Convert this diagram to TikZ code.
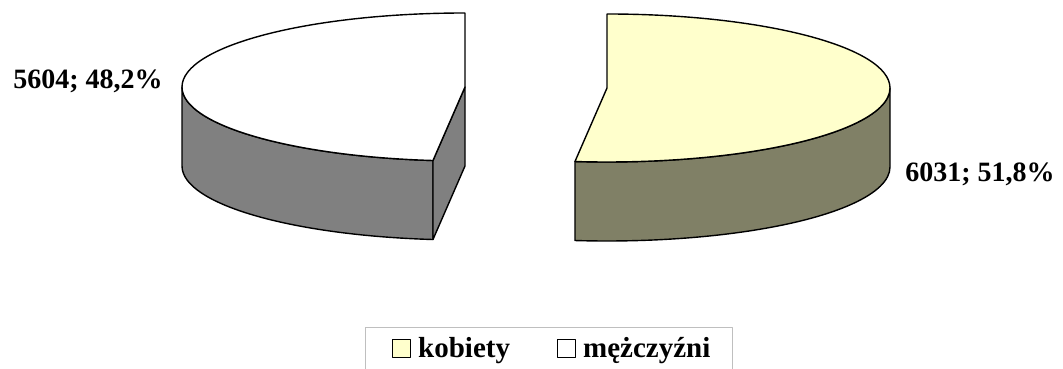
\documentclass[tikz,border=0pt]{standalone}
\usepackage{fontspec}
\setmainfont{Liberation Serif}
\usetikzlibrary{positioning}
\definecolor{jasny}{RGB}{255,255,204}
\definecolor{oliwka}{RGB}{128,128,102}
\definecolor{szary}{RGB}{128,128,128}
\def\rx{283}
\def\ry{74}

\begin{document}
\begin{tikzpicture}[x=1pt,y=1pt,line join=round,
  top/.style={fill=#1,draw=black,line width=1.4pt},
  side/.style={fill=#1,draw=black,line width=1.4pt},
  value/.style={font=\fontsize{28}{30}\selectfont\bfseries,inner sep=0pt},
  legend/.style={font=\fontsize{29}{31}\selectfont\bfseries,inner sep=0pt},
  box/.style={draw=black,line width=0.8pt,minimum size=18pt,inner sep=0pt}]

  \useasboundingbox (0,0) rectangle (1063,369);

  \coordinate (c1) at (465,282);
  \coordinate (c2) at (607,281);

  % mezczyzni
  \draw[side=szary] (c1) ++(180:283 and 74) arc[start angle=180,end angle=263.5,x radius=\rx,y radius=\ry]
    -- ++(0,-79) arc[start angle=263.5,end angle=180,x radius=\rx,y radius=\ry] -- cycle;
  \draw[side=szary] (c1) -- ++(263.5:283 and 74) -- ++(0,-79) -- ([yshift=-79pt]c1) -- cycle;
  \draw[top=white] (c1) -- ++(0,\ry) arc[start angle=90,end angle=263.5,x radius=\rx,y radius=\ry] -- cycle;

  % kobiety
  \draw[side=oliwka] (c2) ++(263.5:283 and 74) arc[start angle=263.5,end angle=360,x radius=\rx,y radius=\ry]
    -- ++(0,-79) arc[start angle=360,end angle=263.5,x radius=\rx,y radius=\ry] -- cycle;
  \draw[top=jasny] (c2) -- ++(0,\ry) arc[start angle=90,end angle=-96.5,x radius=\rx,y radius=\ry] -- cycle;

  \node[value,anchor=base] (lab1) at (88,280) {5604; 48,2\%};
  \node[value,anchor=base] (lab2) at (980,187) {6031; 51,8\%};

  % legenda
  \draw[gray!50,line width=1pt] (365,-2) -- (365,41) -- (732,41) -- (732,-2);
  \node[box,fill=jasny] (sq1) at (401,20.5) {};
  \node[legend,anchor=base west] (leg1) at (418,11) {kobiety};
  \node[box,fill=white] (sq2) at (566,20.5) {};
  \node[legend,anchor=base west] (leg2) at (583,11) {mężczyźni};
\end{tikzpicture}
\end{document}
